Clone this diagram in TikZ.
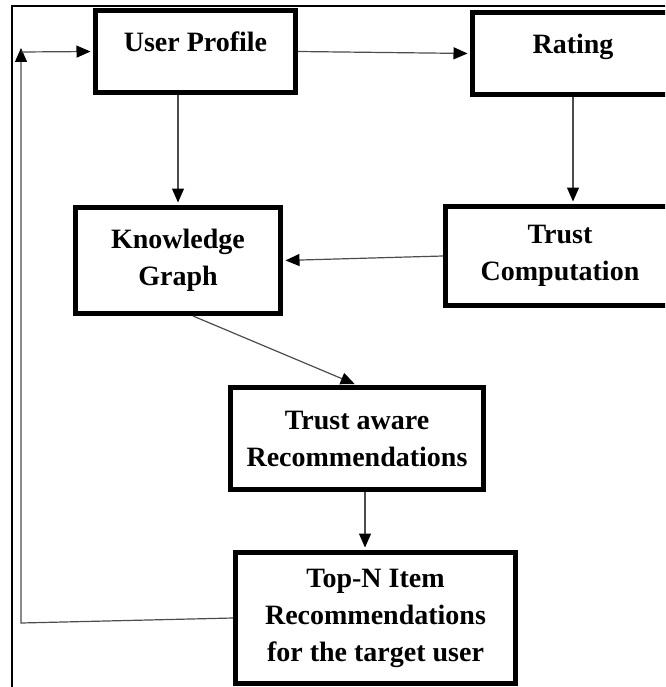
\documentclass[tikz,border=0pt]{standalone}
\usepackage{fontspec}
\setmainfont{Liberation Serif}
\usetikzlibrary{arrows.meta}

\begin{document}
\begin{tikzpicture}[x=1pt, y=-1pt,
    blk/.style={draw=black, line width=5pt, fill=white, align=center, inner sep=0pt,
        font=\fontsize{28}{37}\selectfont\bfseries},
    conn/.style={draw=black!70, line width=1.2pt, shorten >=2.5pt,
        -{Triangle[length=14pt, width=12pt, color=black]}}]
                        \clip (0,0) rectangle (665,687);
                        \draw[line width=2pt] (12,700) -- (12,6) -- (680,6);
                        % boxes
                        \node[blk, minimum width=200pt, minimum height=82pt, text height=20pt, text depth=20pt] (UP) at (195.5,51.5) {User Profile};
                        \node[blk, minimum width=201pt, minimum height=82pt, text height=20pt, text depth=20pt] (RT) at (573,53.5) {Rating};
                        \node[blk, minimum width=205pt, minimum height=106pt] (KG) at (178,260.5) {Knowledge\\Graph};
                        \node[blk, minimum width=229pt, minimum height=99pt] (TC) at (560,256) {Trust\\Computation};
                        \node[blk, minimum width=253pt, minimum height=102pt] (TAR) at (357,438.5) {Trust aware\\Recommendations};
                        \node[blk, minimum width=280pt, minimum height=131pt] (TOPN) at (375.5,618) {Top-N Item\\Recommendations\\for the target user};
                        % feedback corners
                        \coordinate (fbl) at (21,623);
                        \coordinate (fbt) at (21,52);
                        % connectors
                        \draw[conn] (UP.east) -- (RT.west);
                        \draw[conn] (KG.north |- UP.south) -- (KG.north);
                        \draw[conn] (RT.south) -- (RT.south |- TC.north);
                        \draw[conn] (TC.west) -- (KG.east);
                        \draw[conn] ([xshift=15pt]KG.south) -- (TAR.north);
                        \draw[conn] ([xshift=8pt]TAR.south) -- ([xshift=8pt]TAR.south |- TOPN.north);
                        \draw[conn, shorten >=-4pt] (TOPN.west) -- (fbl) -- (fbt);
                        \draw[conn] (fbt) -- (UP.west);
                    \end{tikzpicture}
\end{document}
